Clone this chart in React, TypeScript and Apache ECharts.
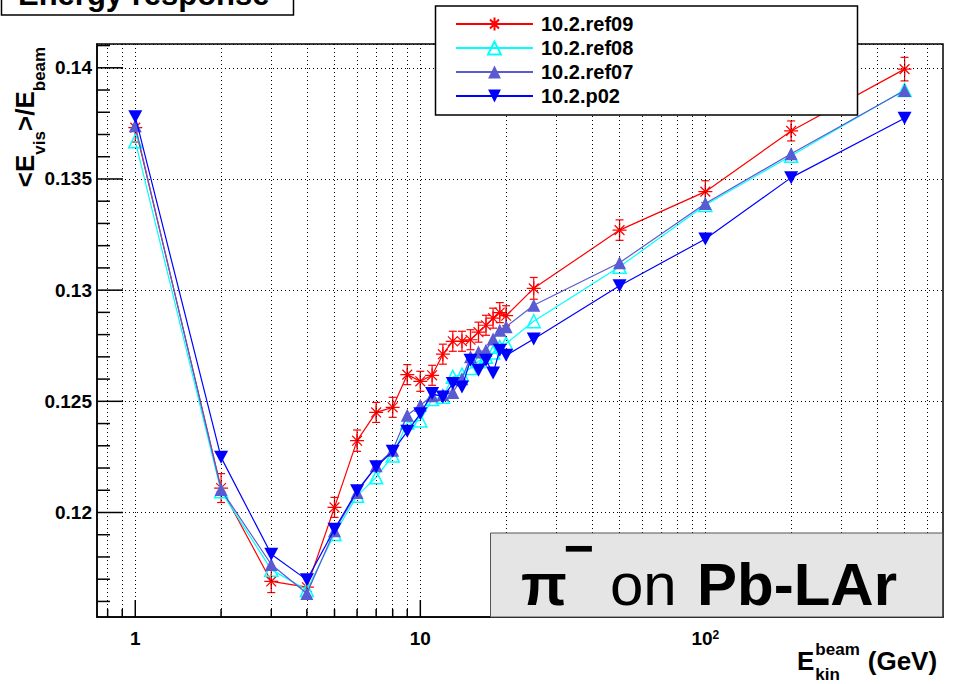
import React, { useEffect, useRef } from 'react';
import * as echarts from 'echarts';

// ---------------- data ----------------
const ENERGY = [1, 2, 3, 4, 5, 6, 7, 8, 9, 10, 11, 12, 13, 14, 15, 16, 17, 18, 19, 20, 25, 50, 100, 200, 500];
const REF09 = [0.13731, 0.1211, 0.1169, 0.11664, 0.12023, 0.12323, 0.1245, 0.12473, 0.1262, 0.1259, 0.12617, 0.12712, 0.1277, 0.1277, 0.12777, 0.12811, 0.12842, 0.12874, 0.12899, 0.12885, 0.13008, 0.1327, 0.13443, 0.13716, 0.13994];
const REF09_ERR = [0.00065, 0.00065, 0.0005, 0.0005, 0.00045, 0.00048, 0.00045, 0.00045, 0.00045, 0.00045, 0.00045, 0.00045, 0.00045, 0.00045, 0.00045, 0.00045, 0.00045, 0.00045, 0.00045, 0.00045, 0.00049, 0.00046, 0.00049, 0.00045, 0.00053];
const REF08 = [0.1367, 0.12095, 0.11743, 0.11651, 0.11903, 0.12075, 0.12158, 0.12256, 0.12405, 0.12414, 0.1251, 0.1252, 0.1261, 0.1262, 0.1265, 0.1268, 0.127, 0.1272, 0.12745, 0.1276, 0.1286, 0.13105, 0.13383, 0.13604, 0.139];
const REF07 = [0.13739, 0.12103, 0.11766, 0.11636, 0.11918, 0.1209, 0.1221, 0.1228, 0.12437, 0.12482, 0.12525, 0.1253, 0.1254, 0.12602, 0.127, 0.12722, 0.1273, 0.1278, 0.1282, 0.12835, 0.12932, 0.13123, 0.1339, 0.13613, 0.13898];
const P02 = [0.1378, 0.12248, 0.11812, 0.11697, 0.11925, 0.12098, 0.12206, 0.12275, 0.12365, 0.12444, 0.12535, 0.12519, 0.1258, 0.12564, 0.12685, 0.1264, 0.12685, 0.12627, 0.1273, 0.12707, 0.1278, 0.1302, 0.1323, 0.13506, 0.13773];

const SERIES_NAMES = ['10.2.ref09', '10.2.ref08', '10.2.ref07', '10.2.p02'];

const X_MIN = 0.734;
const X_MAX = 682;
const Y_MIN = 0.1153;
const Y_MAX = 0.14107;

const X_MAJOR = [1, 10, 100];
const X_TICK_LABELS = ['1', '10', '10{sup|2}'];
const X_GRID = [0.8, 0.9, 1, 2, 3, 4, 5, 6, 7, 8, 9, 10, 20, 30, 40, 50, 60, 70, 80, 90, 100, 200, 300, 400, 500, 600];
const Y_MAJOR = [0.12, 0.125, 0.13, 0.135, 0.14];
const Y_TICK_LABELS = ['0.12', '0.125', '0.13', '0.135', '0.14'];
const Y_MINOR = [0.116, 0.117, 0.118, 0.119, 0.121, 0.122, 0.123, 0.124, 0.126, 0.127, 0.128, 0.129, 0.131, 0.132, 0.133, 0.134, 0.136, 0.137, 0.138, 0.139, 0.141];

const FONT = '"Liberation Sans", Arial, Helvetica, sans-serif';
const CENTRAL = 0.3465; // distance from baseline to central baseline (em)

function measure(text: string, size: number, weight = 'bold', style = 'normal') {
  const c = document.createElement('canvas').getContext('2d') as CanvasRenderingContext2D;
  c.font = `${style} ${weight} ${size}px "Liberation Sans"`;
  return c.measureText(text).width;
}

function textEl(text: string, x: number, baseline: number, size: number, weight = 'bold', style = 'normal', align = 'left') {
  return {
    type: 'text',
    x,
    y: baseline - CENTRAL * size,
    z: 12,
    silent: true,
    style: {
      text,
      fill: '#000',
      font: `${style} ${weight} ${size}px ${FONT}`,
      align,
      verticalAlign: 'middle',
    },
  };
}

export default function App() {
  const ref = useRef<HTMLDivElement>(null);

  useEffect(() => {
    document.body.style.margin = '0';
    if (!ref.current) return;
    const chart = echarts.init(ref.current, undefined, { renderer: 'svg' });

    // ---- y-axis title tokens (rotated) ----
    const MAIN = 26;
    const SUB = 17;
    const yTokens = [
      { t: '<', s: MAIN, b: 0 },
      { t: 'E', s: MAIN, b: 0 },
      { t: 'vis', s: SUB, b: 11 },
      { t: '>', s: MAIN, b: 0 },
      { t: '/', s: MAIN, b: 0 },
      { t: 'E', s: MAIN, b: 0 },
      { t: 'beam', s: SUB, b: 11 },
    ];
    let acc = 0;
    const yChildren: any[] = [];
    yTokens.forEach((tk) => {
      yChildren.push(textEl(tk.t, acc, tk.b, tk.s));
      acc += measure(tk.t, tk.s);
    });
    const yTitle = {
      type: 'group',
      x: 34,
      y: 117 + acc / 2,
      rotation: Math.PI / 2,
      children: yChildren,
    };

    // ---- x-axis title ----
    const eW = measure('E', MAIN);
    const beamW = measure('beam', SUB);
    const xTitleX = 797;
    const xTitle = [
      textEl('E', xTitleX, 670, MAIN),
      textEl('beam', xTitleX + eW + 1, 655, SUB),
      textEl('kin', xTitleX + eW + 1, 680, SUB),
      textEl('(GeV)', xTitleX + eW + 1 + beamW + 8, 670, MAIN),
    ];

    const mk = (vals: number[]) => ENERGY.map((e, i) => [e, vals[i]]);

    const asterisk = 'path://M5,0L5,10M0,5L10,5M1.5,1.5L8.5,8.5M1.5,8.5L8.5,1.5';
    const downTri = 'path://M0,0L10,0L5,9Z';

    const option: any = {
      animation: false,
      backgroundColor: '#fff',
      grid: {
        left: 97,
        top: 44,
        right: 20,
        bottom: 67,
        show: true,
        borderColor: '#000',
        borderWidth: 1.5,
        backgroundColor: '#fff',
        containLabel: false,
      },
      legend: {
        show: true,
        orient: 'vertical',
        left: 450,
        top: 9,
        itemWidth: 77,
        itemHeight: 16,
        itemGap: 4,
        selectedMode: false,
        z: 11,
        data: SERIES_NAMES,
        textStyle: {
          fontFamily: FONT,
          fontSize: 20,
          fontWeight: 'bold',
          color: '#000',
          padding: [0, 0, 0, 3],
        },
      },
      xAxis: {
        type: 'log',
        logBase: 10,
        min: X_MIN,
        max: X_MAX,
        axisLine: { show: true, lineStyle: { color: '#000', width: 1.5 } },
        axisTick: { show: false },
        splitLine: { show: false },
        minorTick: { show: false },
        axisLabel: {
          showMinLabel: false,
          showMaxLabel: false,
          margin: 12,
          fontFamily: FONT,
          fontSize: 19,
          fontWeight: 'bold',
          color: '#000',
          formatter: (v: number) => {
            const idx = X_MAJOR.findIndex((m) => Math.abs(Math.log10(v) - Math.log10(m)) < 1e-6);
            return idx >= 0 ? X_TICK_LABELS[idx] : '';
          },
          rich: {
            sup: { fontFamily: FONT, fontSize: 12, fontWeight: 'bold', color: '#000', verticalAlign: 'top' },
          },
        },
      },
      yAxis: {
        type: 'value',
        min: Y_MIN,
        max: Y_MAX,
        splitNumber: 5,
        axisLine: { show: true, lineStyle: { color: '#000', width: 1.5 } },
        axisTick: { show: false },
        axisLabel: {
          showMinLabel: false,
          showMaxLabel: false,
          margin: 5,
          fontFamily: FONT,
          fontSize: 19,
          fontWeight: 'bold',
          color: '#000',
          formatter: (v: number) => {
            const idx = Y_MAJOR.findIndex((m) => Math.abs(m - v) < 1e-7);
            return idx >= 0 ? Y_TICK_LABELS[idx] : '';
          },
        },
        splitLine: { show: true, lineStyle: { color: '#000', width: 1, type: [1, 3] } },
      },
      series: [
        {
          type: 'custom',
          name: 'xticks',
          z: 2,
          silent: true,
          data: X_GRID.map((v) => [v, Y_MIN, X_MAJOR.includes(v) ? 1 : 0]),
          renderItem: (_p: any, api: any) => {
            const p = api.coord([api.value(0), Y_MIN]);
            const len = api.value(2) ? 17 : 8;
            return {
              type: 'line',
              shape: { x1: p[0], y1: p[1], x2: p[0], y2: p[1] - len },
              style: { stroke: '#000', lineWidth: 1.5 },
            };
          },
          markLine: {
            silent: true,
            symbol: ['none', 'none'],
            label: { show: false },
            emphasis: { disabled: true },
            lineStyle: { color: '#000', width: 1, type: [1, 3] },
            data: X_GRID.map((v) => ({ xAxis: v })),
          },
        },
        {
          type: 'custom',
          name: 'yticks',
          z: 2,
          silent: true,
          data: [...Y_MAJOR.map((v) => [X_MIN, v, 1]), ...Y_MINOR.map((v) => [X_MIN, v, 0])],
          renderItem: (_p: any, api: any) => {
            const p = api.coord([X_MIN, api.value(1)]);
            const len = api.value(2) ? 26 : 13;
            return {
              type: 'line',
              shape: { x1: p[0], y1: p[1], x2: p[0] + len, y2: p[1] },
              style: { stroke: '#000', lineWidth: 1.5 },
            };
          },
        },
        {
          type: 'custom',
          name: 'ref09err',
          z: 3,
          silent: true,
          data: ENERGY.map((e, i) => [e, REF09[i], REF09_ERR[i]]),
          renderItem: (_p: any, api: any) => {
            const x = api.value(0);
            const v = api.value(1);
            const er = api.value(2);
            const lo = api.coord([x, v - er]);
            const hi = api.coord([x, v + er]);
            const st = { stroke: '#ff0000', lineWidth: 1.2 };
            return {
              type: 'group',
              children: [
                { type: 'line', shape: { x1: lo[0], y1: lo[1], x2: hi[0], y2: hi[1] }, style: st },
                { type: 'line', shape: { x1: lo[0] - 4, y1: lo[1], x2: lo[0] + 4, y2: lo[1] }, style: st },
                { type: 'line', shape: { x1: hi[0] - 4, y1: hi[1], x2: hi[0] + 4, y2: hi[1] }, style: st },
              ],
            };
          },
        },
        {
          type: 'line',
          name: SERIES_NAMES[0],
          z: 3,
          data: mk(REF09),
          symbol: asterisk,
          symbolSize: 14,
          lineStyle: { color: '#ff0000', width: 1.2 },
          itemStyle: { color: '#ff0000', borderColor: '#ff0000', borderWidth: 1.2 },
          emphasis: { disabled: true },
        },
        {
          type: 'line',
          name: SERIES_NAMES[1],
          z: 4,
          data: mk(REF08),
          symbol: 'triangle',
          symbolSize: 13,
          lineStyle: { color: '#00ffff', width: 1.2 },
          itemStyle: { color: 'rgba(255,255,255,0)', borderColor: '#00ffff', borderWidth: 1.5 },
          emphasis: { disabled: true },
        },
        {
          type: 'line',
          name: SERIES_NAMES[2],
          z: 5,
          data: mk(REF07),
          symbol: 'triangle',
          symbolSize: 13,
          lineStyle: { color: '#5a5ad2', width: 1.2 },
          itemStyle: { color: '#5a5ad2' },
          emphasis: { disabled: true },
        },
        {
          type: 'line',
          name: SERIES_NAMES[3],
          z: 6,
          data: mk(P02),
          symbol: downTri,
          symbolSize: [14, 13],
          lineStyle: { color: '#0000ff', width: 1.2 },
          itemStyle: { color: '#0000ff' },
          emphasis: { disabled: true },
        },
      ],
      graphic: [
        // title box (partly off the top of the page, as in the reference)
        {
          type: 'rect',
          z: 10,
          silent: true,
          shape: { x: 1.5, y: -12, width: 292, height: 27 },
          style: { fill: '#fff', stroke: '#000', lineWidth: 1.5 },
        },
        textEl('Energy response', 18, 5, 31),
        // legend box
        {
          type: 'rect',
          z: 10,
          silent: true,
          shape: { x: 435.5, y: 6, width: 422, height: 109 },
          style: { fill: '#fff', stroke: '#000', lineWidth: 1.5 },
        },
        // label box
        {
          type: 'rect',
          z: 10,
          silent: true,
          shape: { x: 490.5, y: 533, width: 452, height: 84 },
          style: { fill: '#e5e5e5', stroke: '#555', lineWidth: 1 },
        },
        textEl('π', 521, 605, 60, 'bold', 'normal'),
        {
          type: 'text',
          x: 579,
          y: 547.5,
          z: 12,
          silent: true,
          style: { text: '−', fill: '#000', font: `bold 52px ${FONT}`, align: 'center', verticalAlign: 'middle' },
        },
        textEl('on', 610, 605, 60, 'normal'),
        textEl('Pb-LAr', 697, 605, 60, 'bold'),
        yTitle,
        ...xTitle,
      ],
    };

    chart.setOption(option);
    return () => chart.dispose();
  }, []);

  return <div ref={ref} style={{ width: 963, height: 684 }} />;
}
